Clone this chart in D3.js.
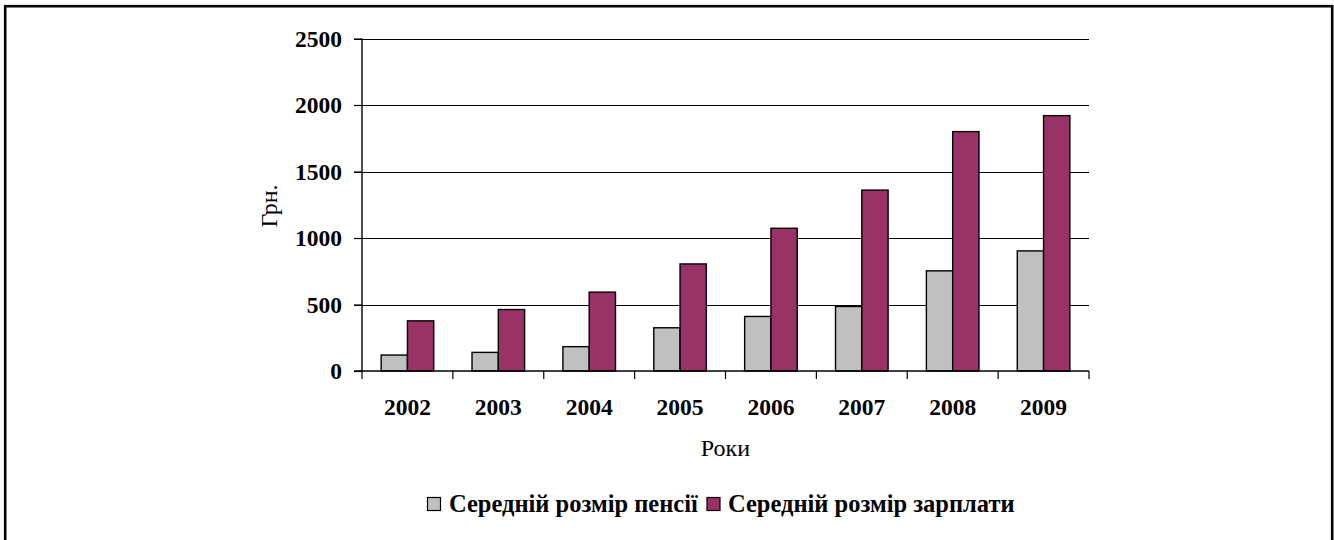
<!DOCTYPE html>
<html>
<head>
<meta charset="utf-8">
<script src="https://cdn.jsdelivr.net/npm/d3@7"></script>
<style>
  html, body { margin: 0; padding: 0; background: #fff; }
  svg { display: block; }
  text { font-family: "Liberation Serif", "Times New Roman", serif; fill: #000; }
</style>
</head>
<body>
<svg id="chart" width="1334" height="540"></svg>
<script>
const years = ["2002", "2003", "2004", "2005", "2006", "2007", "2008", "2009"];
const seriesNames = ["Середній розмір пенсії", "Середній розмір зарплати"];
const pension = [120, 140, 183, 325, 410, 485, 753, 903];
const salary = [377, 462, 593, 805, 1073, 1360, 1800, 1920];
const yTicks = [0, 500, 1000, 1500, 2000, 2500];
const colors = ["#C0C0C0", "#993366"];
const yTitle = "Грн.";
const xTitle = "Роки";

const svg = d3.select("#chart");

// outer frame
svg.append("rect")
  .attr("x", 5.2).attr("y", 6.2)
  .attr("width", 1327).attr("height", 560)
  .attr("fill", "none").attr("stroke", "#000").attr("stroke-width", 2.6);

const pLeft = 362, pRight = 1089, pTop = 38.5, pBottom = 371;

const x = d3.scaleBand().domain(years).range([pLeft, pRight]).paddingInner(0).paddingOuter(0);
const x1 = d3.scaleBand().domain(seriesNames).range([0, x.bandwidth()]).paddingInner(0).paddingOuter(0.728);
const y = d3.scaleLinear().domain([0, 2500]).range([pBottom, pTop]);

// gridlines
svg.append("g").selectAll("line").data(yTicks.filter(d => d > 0)).join("line")
  .attr("x1", pLeft - 8).attr("x2", pRight)
  .attr("y1", d => Math.round(y(d)) + 0.5).attr("y2", d => Math.round(y(d)) + 0.5)
  .attr("stroke", "#000").attr("stroke-width", 1.2);

// bars
const data = years.map((yr, i) => ({ yr, vals: [pension[i], salary[i]] }));
const groups = svg.append("g").selectAll("g").data(data).join("g")
  .attr("transform", d => `translate(${x(d.yr)},0)`);
groups.selectAll("rect").data(d => d.vals.map((v, j) => ({ v, name: seriesNames[j], j }))).join("rect")
  .attr("x", d => x1(d.name))
  .attr("y", d => y(d.v))
  .attr("width", x1.bandwidth())
  .attr("height", d => y(0) - y(d.v))
  .attr("fill", d => colors[d.j])
  .attr("stroke", "#000").attr("stroke-width", 1.4);

// y axis
const yAxis = d3.axisLeft(y).tickValues(yTicks).tickSize(8).tickPadding(12).tickFormat(d3.format("d"));
const gy = svg.append("g").attr("transform", `translate(${pLeft},0)`).call(yAxis);
gy.select(".domain").attr("stroke", "#000").attr("stroke-width", 1.4).attr("d", `M0,${pTop}V${pBottom}`);
gy.selectAll(".tick line").attr("stroke", "#000").attr("stroke-width", 1.2);
gy.selectAll(".tick text").attr("font-family", "Liberation Serif").attr("font-weight", "bold").attr("font-size", 23.5).attr("fill", "#000");

// x axis
const xAxis = d3.axisBottom(x).tickSize(0).tickPadding(28);
const gx = svg.append("g").attr("transform", `translate(0,${pBottom})`).call(xAxis);
gx.select(".domain").attr("stroke", "#000").attr("stroke-width", 1.4).attr("d", `M${pLeft - 8},0H${pRight}`);
gx.selectAll(".tick text").attr("font-family", "Liberation Serif").attr("font-weight", "bold").attr("font-size", 23.5).attr("fill", "#000").attr("dy", "0").attr("y", 43.5);
// boundary ticks between categories
const bounds = years.map(d => x(d)).concat([pRight]);
gx.append("g").selectAll("line").data(bounds).join("line")
  .attr("x1", d => d).attr("x2", d => d).attr("y1", 0).attr("y2", 8)
  .attr("stroke", "#000").attr("stroke-width", 1.2);

// axis titles
svg.append("text").attr("transform", "translate(277,206) rotate(-90)")
  .attr("text-anchor", "middle").attr("font-size", 24).text(yTitle);
svg.append("text").attr("x", 725.5).attr("y", 456)
  .attr("text-anchor", "middle").attr("font-size", 24).text(xTitle);

// legend
const legend = svg.append("g");
const legendItems = [
  { name: seriesNames[0], color: colors[0], sx: 427.5, tx: 449 },
  { name: seriesNames[1], color: colors[1], sx: 707, tx: 728 }
];
legendItems.forEach(it => {
  legend.append("rect").attr("x", it.sx).attr("y", 497.5).attr("width", 13).attr("height", 13)
    .attr("fill", it.color).attr("stroke", "#000").attr("stroke-width", 1.2);
  legend.append("text").attr("x", it.tx).attr("y", 511.5)
    .attr("font-weight", "bold").attr("font-size", 24.5).text(it.name);
});
</script>
</body>
</html>
